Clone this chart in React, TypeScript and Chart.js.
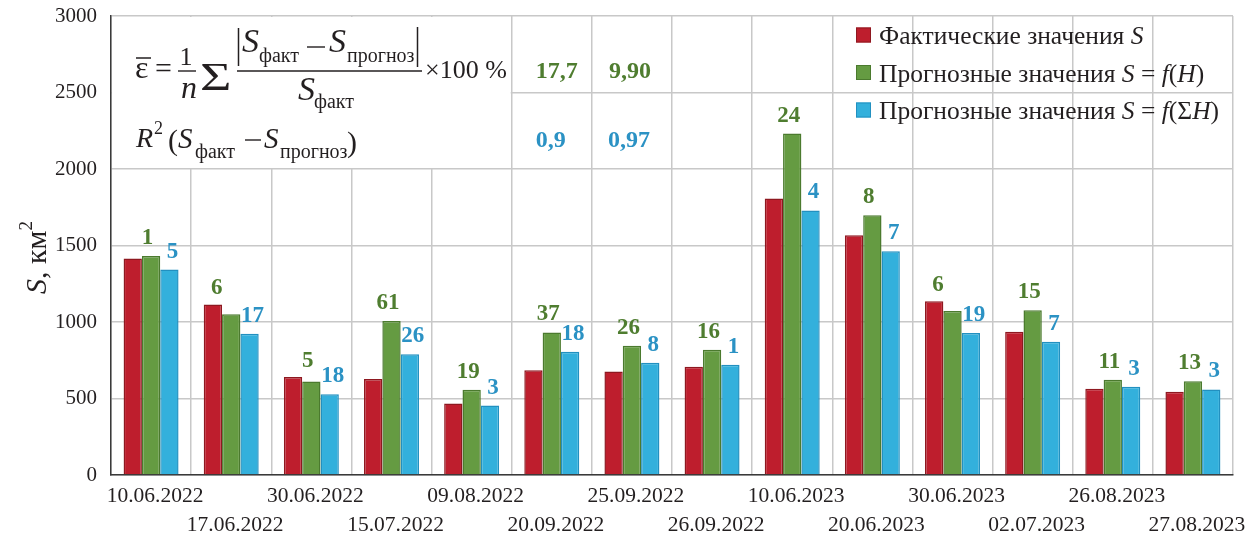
import React, { useEffect, useRef } from 'react';
import { Chart, registerables } from 'chart.js';

Chart.register(...registerables);

// ---------- data ----------
const categories = [
  '10.06.2022', '17.06.2022', '30.06.2022', '15.07.2022', '09.08.2022',
  '20.09.2022', '25.09.2022', '26.09.2022', '10.06.2023', '20.06.2023',
  '30.06.2023', '02.07.2023', '26.08.2023', '27.08.2023',
];
const actualS = [1415, 1115, 640, 627, 467, 685, 677, 707, 1807, 1567, 1135, 937, 563, 544];
const forecastH = [1432, 1050, 611, 1006, 557, 932, 845, 819, 2232, 1698, 1072, 1076, 622, 613];
const forecastSumH = [1343, 923, 528, 790, 454, 806, 733, 720, 1729, 1463, 928, 871, 576, 559];
const errorH = [1, 6, 5, 61, 19, 37, 26, 16, 24, 8, 6, 15, 11, 13];
const errorSumH = [5, 17, 18, 26, 3, 18, 8, 1, 4, 7, 19, 7, 3, 3];
const yTicks = [0, 500, 1000, 1500, 2000, 2500, 3000];
const meanErrors = ['17,7', '9,90'];
const r2Values = ['0,9', '0,97'];
const seriesLabels = [
  'Фактические значения S',
  'Прогнозные значения S = f(H)',
  'Прогнозные значения S = f(ΣH)',
];

// ---------- styles ----------
const FONT = '"Liberation Serif", "Times New Roman", serif';
const RED = '#be1e2d';
const RED_B = '#8e1820';
const GREEN = '#659b42';
const GREEN_B = '#4b7a2e';
const BLUE = '#33b0dc';
const BLUE_B = '#2290c0';
const GREEN_TXT = '#4f7d30';
const BLUE_TXT = '#2b92c4';
const TXT = '#231f20';

type Run = { t: string; size: number; italic?: boolean; bold?: boolean; dy?: number; gap?: number };

function font(r: Run) {
  return `${r.italic ? 'italic ' : ''}${r.bold ? 'bold ' : ''}${r.size}px ${FONT}`;
}

function runsWidth(ctx: CanvasRenderingContext2D, runs: Run[]) {
  let w = 0;
  for (const r of runs) {
    ctx.font = font(r);
    w += ctx.measureText(r.t).width + (r.gap || 0);
  }
  return w;
}

function drawRuns(ctx: CanvasRenderingContext2D, x: number, y: number, runs: Run[]) {
  for (const r of runs) {
    ctx.font = font(r);
    ctx.fillText(r.t, x, y + (r.dy || 0));
    x += ctx.measureText(r.t).width + (r.gap || 0);
  }
  return x;
}

// Latin letters italic, everything else upright
function mathRuns(s: string, size: number): Run[] {
  const out: Run[] = [];
  let cur = '';
  let curIt = false;
  for (const ch of s) {
    const it = /[A-Za-z]/.test(ch);
    if (cur && it !== curIt) {
      out.push({ t: cur, size, italic: curIt });
      cur = '';
    }
    cur += ch;
    curIt = it;
  }
  if (cur) out.push({ t: cur, size, italic: curIt });
  return out;
}

function line(ctx: CanvasRenderingContext2D, x1: number, y1: number, x2: number, y2: number, w = 1.4) {
  ctx.beginPath();
  ctx.lineWidth = w;
  ctx.moveTo(x1, y1);
  ctx.lineTo(x2, y2);
  ctx.stroke();
}

const overlayPlugin = {
  id: 'overlay',
  beforeDatasetsDraw(chart: any) {
    const { ctx, chartArea, scales } = chart;
    const xs = scales.x;
    const ys = scales.y;
    const x0 = chartArea.left;
    const y0 = chartArea.top;
    const xb = (xs.getPixelForValue(4) + xs.getPixelForValue(5)) / 2;
    const yb = ys.getPixelForValue(2000);
    ctx.save();
    ctx.fillStyle = '#ffffff';
    ctx.fillRect(x0 + 1, y0 + 1, xb - x0 - 2, yb - y0 - 2);

    // formula, relative to plot corner
    const ox = x0 - 111;
    const oy = y0 - 16;
    ctx.fillStyle = TXT;
    ctx.strokeStyle = TXT;
    ctx.textAlign = 'left';
    ctx.textBaseline = 'alphabetic';
    // epsilon with bar
    drawRuns(ctx, ox + 135, oy + 78, [{ t: 'ε', size: 32 }]);
    line(ctx, ox + 136, oy + 58, ox + 151, oy + 58, 1.5);
    drawRuns(ctx, ox + 155, oy + 78, [{ t: '=', size: 30 }]);
    // 1/n
    ctx.textAlign = 'center';
    drawRuns(ctx, ox + 186, oy + 65, [{ t: '1', size: 26 }]);
    line(ctx, ox + 178, oy + 71, ox + 196, oy + 71, 1.4);
    ctx.font = font({ t: 'n', size: 32, italic: true });
    ctx.fillText('n', ox + 189, oy + 98);
    ctx.textAlign = 'left';
    // sigma
    ctx.save();
    ctx.translate(ox + 200, oy + 90);
    ctx.scale(1.35, 1);
    ctx.font = `40px ${FONT}`;
    ctx.fillText('Σ', 0, 0);
    ctx.restore();
    // numerator
    line(ctx, ox + 238.5, oy + 28, ox + 238.5, oy + 66, 1.5);
    drawRuns(ctx, ox + 242, oy + 52, [{ t: 'S', size: 34, italic: true }]);
    drawRuns(ctx, ox + 259, oy + 62, [{ t: 'факт', size: 20 }]);
    line(ctx, ox + 307, oy + 47, ox + 325, oy + 47, 1.4);
    drawRuns(ctx, ox + 329, oy + 52, [{ t: 'S', size: 34, italic: true }]);
    drawRuns(ctx, ox + 347, oy + 62, [{ t: 'прогноз', size: 20 }]);
    line(ctx, ox + 417.5, oy + 27, ox + 417.5, oy + 67, 1.5);
    // main fraction line
    line(ctx, ox + 237, oy + 71, ox + 422, oy + 71, 1.5);
    // denominator
    drawRuns(ctx, ox + 298, oy + 100, [{ t: 'S', size: 34, italic: true }]);
    drawRuns(ctx, ox + 314, oy + 108, [{ t: 'факт', size: 20 }]);
    drawRuns(ctx, ox + 425, oy + 78, [{ t: '×100 %', size: 26 }]);

    // R^2 row
    const cx = drawRuns(ctx, ox + 136, oy + 147, [{ t: 'R', size: 28, italic: true }]);
    drawRuns(ctx, cx + 1, oy + 134, [{ t: '2', size: 18 }]);
    drawRuns(ctx, ox + 168, oy + 150, [{ t: '(', size: 30 }]);
    drawRuns(ctx, ox + 178, oy + 148, [{ t: 'S', size: 29, italic: true }]);
    drawRuns(ctx, ox + 195, oy + 158, [{ t: 'факт', size: 20 }]);
    line(ctx, ox + 245, oy + 140, ox + 261, oy + 140, 1.4);
    drawRuns(ctx, ox + 264, oy + 148, [{ t: 'S', size: 29, italic: true }]);
    drawRuns(ctx, ox + 280, oy + 158, [{ t: 'прогноз', size: 20 }]);
    drawRuns(ctx, ox + 347, oy + 152, [{ t: ')', size: 30 }]);

    // table values
    ctx.textAlign = 'center';
    ctx.font = `bold 24px ${FONT}`;
    meanErrors.forEach((v, k) => {
      ctx.fillStyle = GREEN_TXT;
      ctx.fillText(v, xs.getPixelForValue(5 + k) + (k === 0 ? 5 : -2), oy + 78);
    });
    r2Values.forEach((v, k) => {
      ctx.fillStyle = BLUE_TXT;
      ctx.fillText(v, xs.getPixelForValue(5 + k) + (k === 0 ? -1 : -3), oy + 147);
    });
    ctx.restore();
  },
  afterDatasetsDraw(chart: any) {
    const { ctx } = chart;
    const m0 = chart.getDatasetMeta(0).data;
    const m1 = chart.getDatasetMeta(1).data;
    const m2 = chart.getDatasetMeta(2).data;
    ctx.save();
    ctx.textAlign = 'center';
    ctx.textBaseline = 'alphabetic';
    ctx.font = `bold 23px ${FONT}`;
    for (let i = 0; i < categories.length; i++) {
      const r = m0[i];
      const g = m1[i];
      const b = m2[i];
      const shift = actualS[i] - forecastH[i] > 40 ? 11 : 0;
      ctx.fillStyle = GREEN_TXT;
      ctx.fillText(String(errorH[i]), g.x - 3.5 - shift, Math.min(r.y + 2, g.y) - 12);
      ctx.fillStyle = BLUE_TXT;
      ctx.fillText(String(errorSumH[i]), b.x + 3, b.y - 12);
    }
    ctx.restore();
  },
  afterDraw(chart: any) {
    const { ctx, chartArea } = chart;
    ctx.save();
    ctx.textBaseline = 'alphabetic';
    ctx.textAlign = 'left';
    // legend
    const colors = [
      [RED, RED_B],
      [GREEN, GREEN_B],
      [BLUE, BLUE_B],
    ];
    const lx = chartArea.right - 377;
    const rows = [35, 72.5, 110];
    chart.data.datasets.forEach((ds: any, k: number) => {
      const cy = chartArea.top - 16 + rows[k];
      ctx.fillStyle = colors[k][0];
      ctx.fillRect(lx, cy - 7.5, 15, 15);
      ctx.strokeStyle = colors[k][1];
      ctx.lineWidth = 1;
      ctx.strokeRect(lx + 0.5, cy - 7, 14, 14);
      ctx.fillStyle = TXT;
      drawRuns(ctx, lx + 23, cy + 9, mathRuns(ds.label, 25.5));
    });
    // y axis title
    const runs: Run[] = [
      { t: 'S', size: 30, italic: true },
      { t: ', км', size: 30 },
      { t: '2', size: 19, dy: -14 },
    ];
    const w = runsWidth(ctx, runs);
    ctx.translate(46, (chartArea.top + chartArea.bottom) / 2 + 12);
    ctx.rotate(-Math.PI / 2);
    ctx.fillStyle = TXT;
    drawRuns(ctx, -w / 2, 0, runs);
    ctx.restore();
  },
};

export default function App() {
  const ref = useRef<HTMLCanvasElement | null>(null);
  useEffect(() => {
    if (!ref.current) return;
    const chart = new Chart(ref.current, {
      type: 'bar',
      data: {
        labels: categories,
        datasets: [
          { label: seriesLabels[0], data: actualS, backgroundColor: RED, borderColor: RED_B },
          { label: seriesLabels[1], data: forecastH, backgroundColor: GREEN, borderColor: GREEN_B },
          { label: seriesLabels[2], data: forecastSumH, backgroundColor: BLUE, borderColor: BLUE_B },
        ].map((d) => ({
          ...d,
          borderWidth: 1.5,
          borderSkipped: 'start' as const,
          categoryPercentage: 0.686,
          barPercentage: 1,
        })),
      },
      options: {
        animation: false,
        responsive: false,
        maintainAspectRatio: false,
        events: [],
        layout: { padding: { top: 16, right: 17, left: 0, bottom: 0 } },
        plugins: { legend: { display: false }, tooltip: { enabled: false } },
        scales: {
          x: {
            grid: { color: '#c8c8c8', lineWidth: 1.5, drawTicks: false, offset: true },
            border: { color: '#3a3a3a', width: 1.5 },
            ticks: {
              autoSkip: false,
              maxRotation: 0,
              minRotation: 0,
              padding: 7,
              labelOffset: 4,
              color: TXT,
              font: { family: FONT, size: 21.5, lineHeight: 1.35 },
              callback: (_v: any, i: number) => (i % 2 === 0 ? [categories[i], ''] : ['', categories[i]]),
            },
            afterFit: (s: any) => {
              s.height = 62;
              s.paddingLeft = 0;
              s.paddingRight = 0;
            },
          },
          y: {
            min: 0,
            max: 3000,
            grid: { color: '#c8c8c8', lineWidth: 1.5, drawTicks: false },
            border: { color: '#3a3a3a', width: 1.5 },
            ticks: {
              padding: 14,
              color: TXT,
              font: { family: FONT, size: 21 },
              callback: (v: any) => String(v),
            },
            afterBuildTicks: (s: any) => {
              s.ticks = yTicks.map((v) => ({ value: v }));
            },
            afterFit: (s: any) => {
              s.width = 111;
              s.paddingTop = 0;
              s.paddingBottom = 0;
            },
          },
        },
      },
      plugins: [overlayPlugin],
    });
    return () => chart.destroy();
  }, []);
  return (
    <div style={{ position: 'fixed', left: 0, top: 0, width: 1250, height: 537, background: '#fff' }}>
      <canvas ref={ref} width={1250} height={537} />
    </div>
  );
}
